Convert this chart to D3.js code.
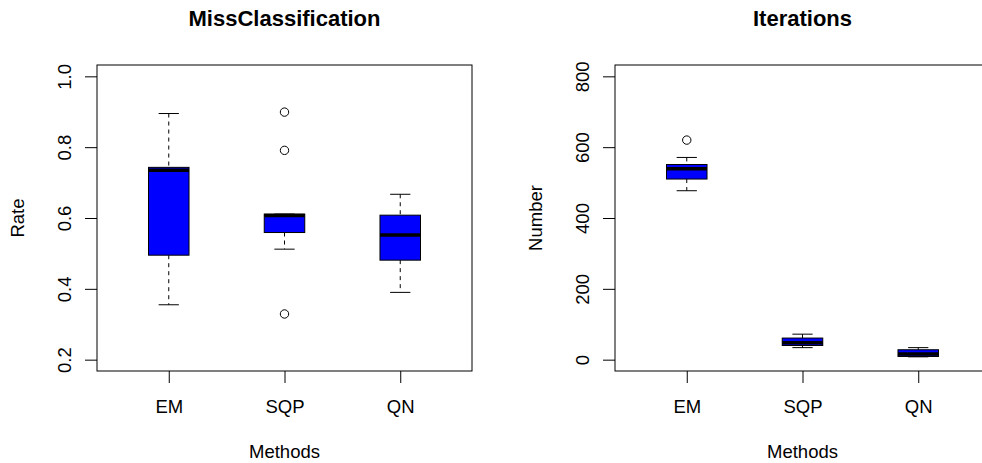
<!DOCTYPE html>
<html>
<head>
<meta charset="utf-8">
<script src="https://cdn.jsdelivr.net/npm/d3@7"></script>
<style>
  body { margin: 0; background: #fff; }
  svg { display: block; font-family: "Liberation Sans", Arial, sans-serif; }
  .axis text { font-size: 18.5px; fill: #000; }
  .axis line { stroke: #000; }
</style>
</head>
<body>
<svg width="982" height="463"></svg>
<script>
const methods = ["EM", "SQP", "QN"]

// box stats per method
const rateLower   = [0.355, 0.512, 0.390]
const rateQ1      = [0.495, 0.559, 0.481]
const rateMedian  = [0.735, 0.607, 0.552]
const rateQ3      = [0.743, 0.611, 0.608]
const rateUpper   = [0.895, 0.611, 0.667]
const rateOut     = [[], [0.899, 0.791, 0.329], []]
const rateTicks   = [0.2, 0.4, 0.6, 0.8, 1.0]

const iterLower   = [477, 34, 8]
const iterQ1      = [510, 40, 9]
const iterMedian  = [539, 48, 16]
const iterQ3      = [551, 61, 28]
const iterUpper   = [571, 72, 34]
const iterOut     = [[620], [], []]
const iterTicks   = [0, 200, 400, 600, 800]

const svg = d3.select("svg")

function panel(opts) {
  const { left, right, top, bottom } = opts
  const x = d3.scaleLinear().domain([0.38, 3.62]).range([left, right])
  const y = d3.scaleLinear().domain(opts.ylim).range([bottom, top])
  const g = svg.append("g")

  const hw = x(1.175) - x(1)
  methods.forEach((m, i) => {
    const cx = x(i + 1)
    // whiskers
    g.append("line").attr("x1", cx).attr("x2", cx)
      .attr("y1", y(opts.upper[i])).attr("y2", y(opts.q3[i]))
      .attr("stroke", "#000").attr("stroke-dasharray", "4,4")
    g.append("line").attr("x1", cx).attr("x2", cx)
      .attr("y1", y(opts.q1[i])).attr("y2", y(opts.lower[i]))
      .attr("stroke", "#000").attr("stroke-dasharray", "4,4")
    // staples
    ;[opts.upper[i], opts.lower[i]].forEach(v => {
      g.append("line").attr("x1", cx - hw / 2).attr("x2", cx + hw / 2)
        .attr("y1", y(v)).attr("y2", y(v)).attr("stroke", "#000")
    })
    // box
    g.append("rect")
      .attr("x", cx - hw).attr("width", 2 * hw)
      .attr("y", y(opts.q3[i])).attr("height", y(opts.q1[i]) - y(opts.q3[i]))
      .attr("fill", "#0000ff").attr("stroke", "#000")
    // median
    g.append("line").attr("x1", cx - hw).attr("x2", cx + hw)
      .attr("y1", y(opts.median[i])).attr("y2", y(opts.median[i]))
      .attr("stroke", "#000").attr("stroke-width", 3.5)
    // outliers
    opts.out[i].forEach(v => {
      g.append("circle").attr("cx", cx).attr("cy", y(v)).attr("r", 4.2)
        .attr("fill", "none").attr("stroke", "#000")
    })
  })

  // frame
  g.append("rect").attr("x", left).attr("y", top)
    .attr("width", right - left).attr("height", bottom - top)
    .attr("fill", "none").attr("stroke", "#000")

  const ya = g.append("g").attr("class", "axis")
    .attr("transform", `translate(${left},0)`)
    .call(d3.axisLeft(y).tickValues(opts.ticks).tickSize(12).tickFormat(opts.fmt))
  ya.select(".domain").remove()
  ya.selectAll("text")
    .attr("transform", "rotate(-90)")
    .attr("x", 0).attr("y", -26).attr("dy", 0)
    .attr("text-anchor", "middle")

  const xa = g.append("g").attr("class", "axis")
    .attr("transform", `translate(0,${bottom})`)
    .call(d3.axisBottom(x).tickValues([1, 2, 3]).tickSize(12).tickFormat(d => methods[d - 1]))
  xa.select(".domain").remove()
  xa.selectAll("text").attr("y", 42).attr("dy", 0)

  const mid = (left + right) / 2
  g.append("text").attr("x", mid).attr("y", 26)
    .attr("text-anchor", "middle").attr("font-weight", "bold").attr("font-size", 22)
    .text(opts.title)
  g.append("text").attr("x", mid).attr("y", 458)
    .attr("text-anchor", "middle").attr("font-size", 18.5)
    .text("Methods")
  g.append("text")
    .attr("transform", `translate(${left - 73},${(top + bottom) / 2}) rotate(-90)`)
    .attr("text-anchor", "middle").attr("font-size", 18.5)
    .text(opts.ylab)
}

panel({
  left: 97, right: 472, top: 65, bottom: 371,
  ylim: [0.168, 1.032], ticks: rateTicks, fmt: d3.format(".1f"),
  lower: rateLower, q1: rateQ1, median: rateMedian, q3: rateQ3, upper: rateUpper, out: rateOut,
  title: "MissClassification", ylab: "Rate"
})

panel({
  left: 615, right: 990, top: 65, bottom: 371,
  ylim: [-32, 832], ticks: iterTicks, fmt: d3.format("d"),
  lower: iterLower, q1: iterQ1, median: iterMedian, q3: iterQ3, upper: iterUpper, out: iterOut,
  title: "Iterations", ylab: "Number"
})
</script>
</body>
</html>
